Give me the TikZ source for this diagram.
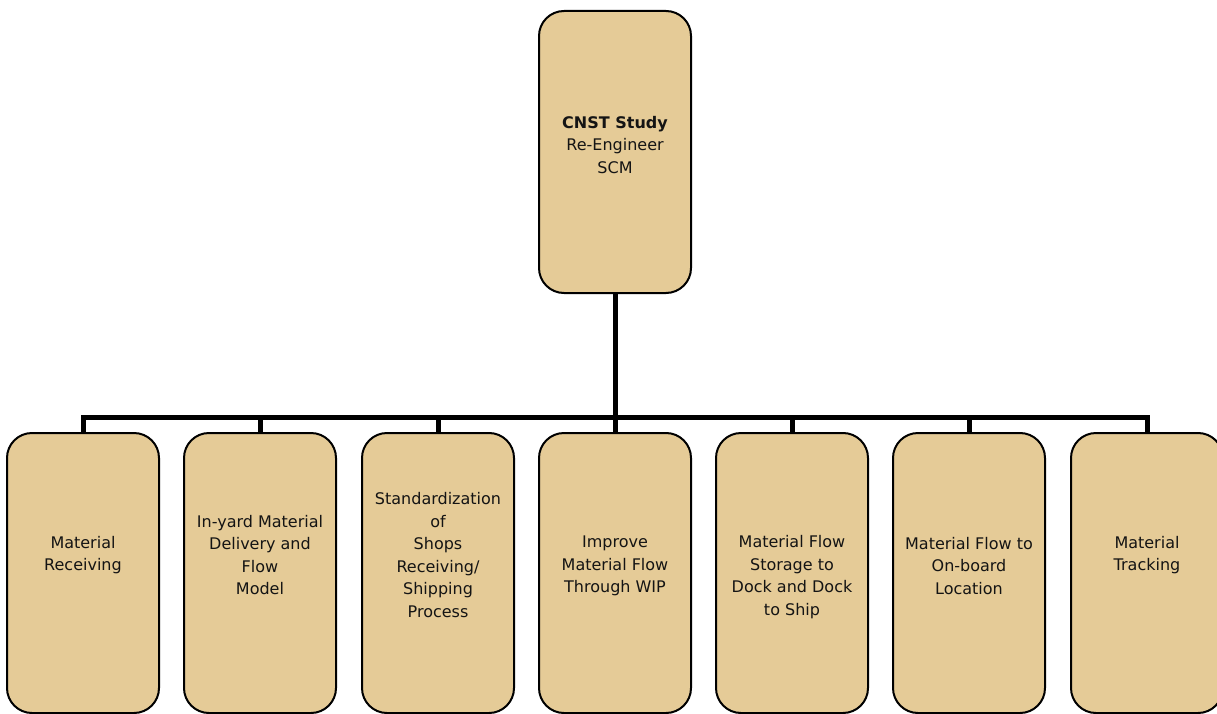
\documentclass[tikz,border=0pt]{standalone}
\usepackage{fontspec}
\setmainfont{DejaVu Sans}
\begin{document}
\begin{tikzpicture}[x=1pt,y=-1pt,
  card/.style={draw=black, line width=2pt, fill=tan, rounded corners=25pt,
    minimum width=152pt, inner sep=0pt},
  txt/.style={align=center, text=ink, font=\fontsize{16}{22.5}\selectfont, inner sep=0pt},
  bus/.style={line width=5pt}]
\definecolor{tan}{HTML}{E5CB97}
\definecolor{ink}{HTML}{141414}
\useasboundingbox (0,0) rectangle (1217,714);

% root card
\node[card, minimum height=282pt] (root) at (615,152) {};
\node[txt] (rootT) at (615,145) {\textbf{CNST Study}\\Re-Engineer\\SCM};

% leaf cards
\foreach \i/\x in {1/83, 2/260, 3/438, 4/615, 5/792, 6/969, 7/1147}
  \node[card, minimum height=280pt] (c\i) at (\x,573) {};

\node[txt] (t1) at (c1.center |- 0,555) {Material\\Receiving};
\node[txt] (t2) at (c2.center |- 0,555) {In-yard Material\\Delivery and\\Flow\\Model};
\node[txt] (t3) at (c3.center |- 0,555) {Standardization\\of\\Shops\\Receiving/\\Shipping\\Process};
\node[txt] (t4) at (c4.center |- 0,566) {Improve\\Material Flow\\Through WIP};
\node[txt] (t5) at (c5.center |- 0,577) {Material Flow\\Storage to\\Dock and Dock\\to Ship};
\node[txt] (t6) at (c6.center |- 0,566) {Material Flow to\\On-board\\Location};
\node[txt] (t7) at (c7.center |- 0,555) {Material\\Tracking};

% tree connectors
\coordinate (busL) at (c1.north |- 0,417);
\coordinate (busR) at (c7.north |- 0,417);
\draw[bus] (root.south) -- (root.south |- busL);
\draw[bus, line join=miter] (c1.north) -- (busL) -- (busR) -- (c7.north);
\foreach \i in {2,...,6}
  \draw[bus] (c\i.north) -- (c\i.north |- busL);
\end{tikzpicture}
\end{document}
